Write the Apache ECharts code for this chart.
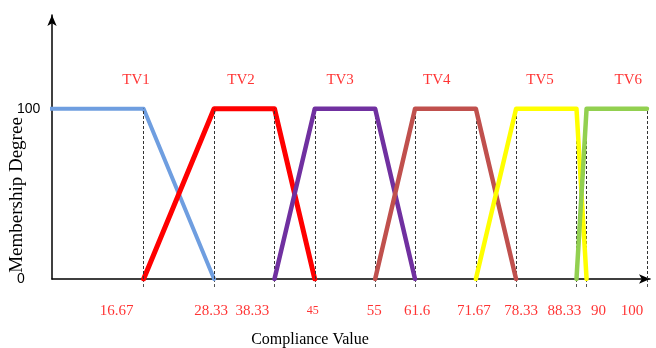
<!DOCTYPE html>
<html><head><meta charset="utf-8">
<script src="https://cdn.jsdelivr.net/npm/echarts@6/dist/echarts.min.js"></script>
<style>html,body{margin:0;padding:0;background:#fff}#c{width:656px;height:348px}</style>
</head><body><div id="c"></div>
<script>
// ---- data ----
const seriesNames = ['TV1', 'TV2', 'TV3', 'TV4', 'TV5', 'TV6'];
const tv1 = [[0, 100], [16.67, 100], [28.33, 0]];
const tv2 = [[16.67, 0], [28.33, 100], [38.33, 100], [45, 0]];
const tv3 = [[38.33, 0], [45, 100], [55, 100], [61.6, 0]];
const tv4 = [[55, 0], [61.6, 100], [71.67, 100], [78.33, 0]];
const tv5 = [[71.67, 0], [78.33, 100], [88.33, 100], [90, 0]];
const tv6 = [[88.33, 0], [90, 100], [100, 100]];
const breakpoints = [16.67, 28.33, 38.33, 45, 55, 61.6, 71.67, 78.33, 88.33, 90, 100];
const tickLabels = ['16.67', '28.33', '38.33', '45', '55', '61.6', '71.67', '78.33', '88.33', '90', '100'];
const yTickLabels = [0, 100];
const nameAnchorX = [15.4, 32.8, 49.2, 65.2, 82.3, 96.9];
const nameAnchorY = 117;

// ---- layout / style (not data) ----
const labelShiftPx = [-27, -3, -22, -2, -1, 2, -2, 5, -12, 12, -15];
const labelFontSize = [15, 15, 15, 12, 15, 15, 15, 15, 15, 15, 15];
const colors = ['#6f9ee0', '#ff0000', '#7030a0', '#c0504d', '#ffff00', '#92d050'];
const widths = [4, 5, 4.5, 4.5, 4.5, 4.5];
const serif = '"Liberation Serif", "Times New Roman", serif';

const allData = [tv1, tv2, tv3, tv4, tv5, tv6];

const series = [];
// dashed verticals
series.push({
  type: 'line', data: [], z: 1, silent: true,
  markLine: {
    symbol: 'none', silent: true, label: { show: false },
    lineStyle: { color: '#333', type: [3, 2], width: 1 },
    data: breakpoints.map(v => [{ coord: [v, 0] }, { coord: [v, 100] }])
  }
});
allData.forEach((d, i) => {
  series.push({
    name: seriesNames[i], type: 'line', data: d, symbol: 'none', z: 3 + i,
    lineStyle: { color: colors[i], width: widths[i], cap: 'round', join: 'round' }
  });
});
// TV labels
series.push({
  type: 'scatter', symbolSize: 0, clip: false, silent: true, z: 10,
  data: seriesNames.map((n, i) => ({ value: [nameAnchorX[i], nameAnchorY], name: n })),
  label: { show: true, position: 'inside', formatter: p => p.name, color: '#ff0000', fontFamily: serif, fontSize: 15 }
});
// x tick labels
series.push({
  type: 'scatter', symbolSize: 0, clip: false, silent: true, z: 10,
  data: breakpoints.map((v, i) => ({
    value: [v, 0], name: tickLabels[i],
    label: { offset: [labelShiftPx[i], 32], fontSize: labelFontSize[i] }
  })),
  label: { show: true, position: 'inside', formatter: p => p.name, color: '#ff0000', fontFamily: serif, fontSize: 15 }
});

const chart = echarts.init(document.getElementById('c'), null, { renderer: 'canvas' });
chart.setOption({
  animation: false,
  backgroundColor: '#fff',
  grid: { left: 52, right: 6, top: 15, bottom: 69, containLabel: false, outerBoundsMode: 'none' },
  xAxis: {
    type: 'value', min: 1.5, max: 100.5,
    name: 'Compliance Value', nameLocation: 'middle', nameGap: 53, nameMoveOverlap: false,
    nameTextStyle: { fontFamily: serif, fontSize: 16, color: '#000', padding: [0, 82, 0, 0] },
    axisLine: { show: true, onZero: false, symbol: ['none', 'arrow'], symbolSize: [7, 11], lineStyle: { color: '#000', width: 1.5 } },
    axisTick: { show: true, customValues: breakpoints, length: 8, inside: false, lineStyle: { color: '#555', type: [3, 2] } },
    axisLabel: { show: false },
    splitLine: { show: false }
  },
  yAxis: {
    type: 'value', min: 0, max: 155, interval: 100,
    name: 'Membership Degree', nameLocation: 'middle', nameGap: 25, nameMoveOverlap: false,
    nameTextStyle: { fontFamily: serif, fontSize: 19, color: '#000', padding: [0, 96, 0, 0] },
    axisLine: { show: true, symbol: ['none', 'arrow'], symbolSize: [7, 11], lineStyle: { color: '#000', width: 1.5 } },
    axisTick: { show: false },
    axisLabel: {
      align: 'left', margin: 35, color: '#000', fontFamily: '"Liberation Sans", Arial, sans-serif', fontSize: 14,
      formatter: v => (yTickLabels.includes(v) ? String(v) : '')
    },
    splitLine: { show: false }
  },
  series: series
});
</script>
</body></html>
